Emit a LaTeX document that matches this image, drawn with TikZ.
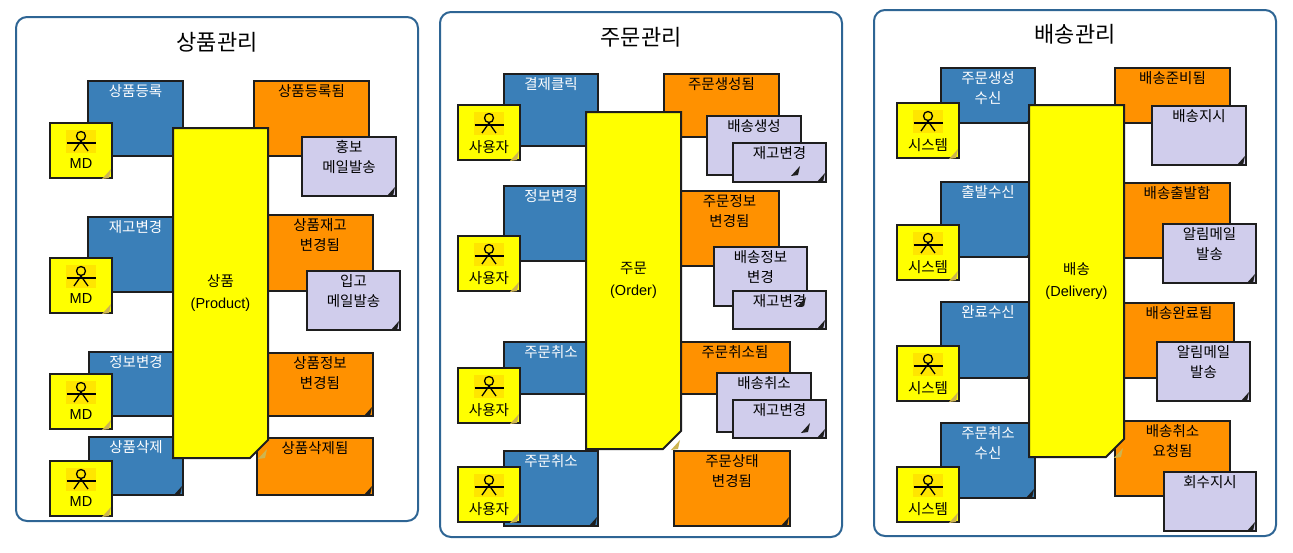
\documentclass[tikz,border=0pt]{standalone}
\usepackage{fontspec}
\setmainfont{Noto Sans CJK KR}
\newfontfamily\latn{Liberation Sans}
\usetikzlibrary{shapes.misc}
\definecolor{evedge}{RGB}{30,30,30}
\definecolor{evpanel}{RGB}{46,101,148}
\definecolor{evblue}{RGB}{58,127,184}
\definecolor{evorange}{RGB}{255,145,0}
\definecolor{evyellow}{RGB}{255,255,0}
\definecolor{evlilac}{RGB}{208,205,236}
\definecolor{evicon}{RGB}{255,230,0}
\definecolor{evtan}{RGB}{205,180,80}
\tikzset{
  panel/.style={
    draw=evpanel, line width=2pt, rounded corners=11pt, fill=white,
    anchor=north west, inner sep=0pt
  },
  title/.style={font=\fontsize{22}{26}\selectfont, inner sep=0pt},
  stick/.style={
    draw=evedge, line width=2pt, anchor=north west, inner sep=0pt, outer sep=0pt,
    chamfered rectangle, chamfered rectangle corners=south east,
    chamfered rectangle sep=9pt, align=center,
    font=\fontsize{14.5}{20}\selectfont
  },
  lbl/.style={
    anchor=north, inner sep=0pt, align=center, yshift=-3pt,
    font=\fontsize{14.5}{20}\selectfont
  },
  cap/.style={label={[lbl]north:#1}},
  blue/.style={stick, fill=evblue, label={[lbl, text=white]north:#1}},
  orange/.style={stick, fill=evorange, cap={#1}},
  lilac/.style={stick, fill=evlilac, cap={#1}},
  entity/.style={stick, fill=evyellow, minimum width=95pt},
  actor/.style={
    stick, fill=evyellow, line width=1.2pt, minimum width=62pt, minimum height=55pt,
    label={[lbl, yshift=-32pt]north:#1}
  }
}
\newcommand{\dogear}[2]{
  \fill[#2] (#1.east |- #1.south) ++(-1,-9) -- ++(-9,10) -- ++(7,-1) -- cycle;
}
\newcommand{\stickman}[1]{
  \begin{scope}[shift={(#1.north)}]
    \fill[evicon] (-15,7) rectangle (15,30);
    \draw[line width=1.3pt] (0,13) circle (4.5);
    \draw[line width=1.3pt] (-14.5,20) -- (14.5,20);
    \draw[line width=1.3pt] (-7,28) -- (0,18) -- (7,28);
  \end{scope}
}
\begin{document}
\begin{tikzpicture}[x=1pt, y=-1pt]
  \useasboundingbox (0,0) rectangle (1293,552);
  % panels
  \draw[panel] (16,17) rectangle (418,521);
  \draw[panel] (440,12) rectangle (842,537);
  \draw[panel] (874,10) rectangle (1276,536);
  \node[title] (tproduct) at (217,42) {상품관리};
  \node[title] (torder) at (641,37) {주문관리};
  \node[title] (tdelivery) at (1075,34) {배송관리};

  % product commands and events
  \node[blue={상품등록}, minimum width=95pt, minimum height=75pt] (pcmd1) at (88,81) {};
  \node[blue={재고변경}, minimum width=95pt, minimum height=75pt] (pcmd2) at (88,217) {};
  \node[blue={정보변경}, minimum width=94pt, minimum height=64pt] (pcmd3) at (89,352) {};
  \node[blue={상품삭제}, minimum width=94pt, minimum height=58pt] (pcmd4) at (89,437) {};
  \node[orange={상품등록됨}, minimum width=115pt, minimum height=75pt] (pevt1) at (254,81) {};
  \node[orange={상품재고\\변경됨}, minimum width=106pt, minimum height=76pt] (pevt2) at (267,215) {};
  \node[orange={상품정보\\변경됨}, minimum width=106pt, minimum height=63pt] (pevt3) at (267,353) {};
  \node[orange={상품삭제됨}, minimum width=116pt, minimum height=57pt] (pevt4) at (257,438) {};
  % order commands and events
  \node[blue={결제클릭}, minimum width=94pt, minimum height=72pt] (ocmd1) at (504,74) {};
  \node[blue={정보변경}, minimum width=94pt, minimum height=75pt] (ocmd2) at (504,186) {};
  \node[blue={주문취소}, minimum width=94pt, minimum height=52pt] (ocmd3) at (504,342) {};
  \node[blue={주문취소}, minimum width=94pt, minimum height=75pt] (ocmd4) at (504,451) {};
  \node[orange={주문생성됨}, minimum width=115pt, minimum height=63pt] (oevt1) at (664,74) {};
  \node[orange={주문정보\\변경됨}, minimum width=99pt, minimum height=75pt] (oevt2) at (680,191) {};
  \node[orange={주문취소됨}, minimum width=110pt, minimum height=52pt] (oevt3) at (680,342) {};
  \node[orange={주문상태\\변경됨}, minimum width=116pt, minimum height=75pt] (oevt4) at (674,451) {};
  % delivery commands and events
  \node[blue={주문생성\\수신}, minimum width=94pt, minimum height=55pt] (dcmd1) at (941,68) {};
  \node[blue={출발수신}, minimum width=94pt, minimum height=75pt] (dcmd2) at (941,182) {};
  \node[blue={완료수신}, minimum width=94pt, minimum height=76pt] (dcmd3) at (941,302) {};
  \node[blue={주문취소\\수신}, minimum width=94pt, minimum height=75pt] (dcmd4) at (941,423) {};
  \node[orange={배송준비됨}, minimum width=115pt, minimum height=55pt] (devt1) at (1115,68) {};
  \node[orange={배송출발함}, minimum width=106pt, minimum height=75pt] (devt2) at (1124,183) {};
  \node[orange={배송완료됨}, minimum width=110pt, minimum height=75pt] (devt3) at (1124,303) {};
  \node[orange={배송취소\\요청됨}, minimum width=115pt, minimum height=75pt] (devt4) at (1115,421) {};
  \foreach \n in {pcmd1,pcmd2,pcmd3,pcmd4,pevt1,pevt2,pevt3,pevt4,
                  ocmd1,ocmd2,ocmd3,ocmd4,oevt1,oevt2,oevt3,oevt4,
                  dcmd1,dcmd2,dcmd3,dcmd4,devt1,devt2,devt3,devt4}
    {\dogear{\n}{evedge}}

  % entities
  \node[entity, minimum height=330pt] (product) at (173,128) {상품\\[2pt]{\latn (Product)}};
  \node[entity, minimum height=337pt] (order) at (586,112) {주문\\[2pt]{\latn (Order)}};
  \node[entity, minimum height=352pt] (delivery) at (1029,105) {배송\\[2pt]{\latn (Delivery)}};
  \foreach \n in {product,order,delivery} {\dogear{\n}{evtan}}

  % actors
  \node[actor={\latn MD}] (pact1) at (50,123) {};
  \node[actor={\latn MD}] (pact2) at (50,258) {};
  \node[actor={\latn MD}] (pact3) at (50,374) {};
  \node[actor={\latn MD}] (pact4) at (50,461) {};
  \node[actor={사용자}] (oact1) at (458,105) {};
  \node[actor={사용자}] (oact2) at (458,236) {};
  \node[actor={사용자}] (oact3) at (458,368) {};
  \node[actor={사용자}] (oact4) at (458,467) {};
  \node[actor={시스템}] (dact1) at (897,103) {};
  \node[actor={시스템}] (dact2) at (897,225) {};
  \node[actor={시스템}] (dact3) at (897,346) {};
  \node[actor={시스템}] (dact4) at (897,467) {};
  \foreach \n in {pact1,pact2,pact3,pact4,oact1,oact2,oact3,oact4,dact1,dact2,dact3,dact4}
    {\stickman{\n}\dogear{\n}{evtan}}

  % policies
  \node[lilac={홍보\\메일발송}, minimum width=94pt, minimum height=59pt] (ppol1) at (302,137) {};
  \node[lilac={입고\\메일발송}, minimum width=93pt, minimum height=59pt] (ppol2) at (307,271) {};
  \node[lilac={배송생성}, minimum width=94pt, minimum height=59pt] (opol1) at (707,116) {};
  \node[lilac={재고변경}, minimum width=93pt, minimum height=39pt] (opol2) at (733,143) {};
  \node[lilac={배송정보\\변경}, minimum width=93pt, minimum height=59pt] (opol3) at (714,247) {};
  \node[lilac={재고변경}, minimum width=93pt, minimum height=38pt] (opol4) at (733,291) {};
  \node[lilac={배송취소}, minimum width=94pt, minimum height=59pt] (opol5) at (717,373) {};
  \node[lilac={재고변경}, minimum width=93pt, minimum height=38pt] (opol6) at (733,400) {};
  \node[lilac={배송지시}, minimum width=94pt, minimum height=59pt] (dpol1) at (1152,106) {};
  \node[lilac={알림메일\\발송}, minimum width=93pt, minimum height=59pt] (dpol2) at (1163,224) {};
  \node[lilac={알림메일\\발송}, minimum width=93pt, minimum height=59pt] (dpol3) at (1157,342) {};
  \node[lilac={회수지시}, minimum width=92pt, minimum height=59pt] (dpol4) at (1164,472) {};
  \foreach \n in {ppol1,ppol2,opol1,opol2,opol3,opol4,opol5,opol6,dpol1,dpol2,dpol3,dpol4}
    {\dogear{\n}{evedge}}
\end{tikzpicture}
\end{document}
